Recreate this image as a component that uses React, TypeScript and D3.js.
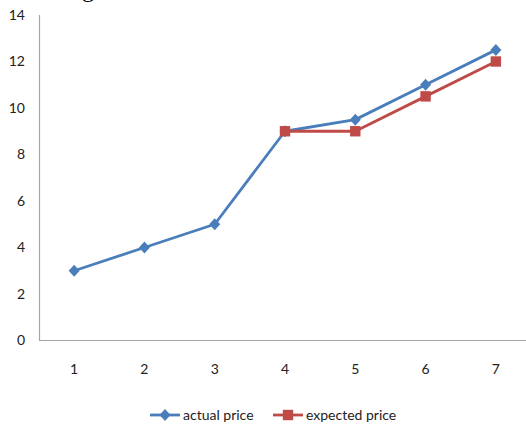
import React, { useEffect, useRef } from "react";
import * as d3 from "d3";

const categories = ["1", "2", "3", "4", "5", "6", "7"];
const actualPrice: (number | null)[] = [3, 4, 5, 9, 9.5, 11, 12.5];
const expectedPrice: (number | null)[] = [null, null, null, 9, 9, 10.5, 12];
const yTicks = [0, 2, 4, 6, 8, 10, 12, 14];
const seriesNames = ["actual price", "expected price"];

const W = 526;
const H = 426;
const FONT = "Lato, 'Open Sans', sans-serif";
const BLUE = "#4a7ebb";
const RED = "#be4b48";

// marker shapes: a near-square diamond and a plain square
const diamondPath = (hw: number, hh: number) =>
  `M0,${-hh}L${hw},0L0,${hh}L${-hw},0Z`;
const squarePath = (h: number) => `M${-h},${-h}H${h}V${h}H${-h}Z`;

export default function App() {
  const ref = useRef<SVGSVGElement>(null);

  useEffect(() => {
    const svg = d3.select(ref.current);
    svg.selectAll("*").remove();

    const x = d3.scaleBand().domain(categories).range([39, 531]);
    const y = d3.scaleLinear().domain([0, 14]).range([340.5, 15]);
    const cx = (c: string) => (x(c) ?? 0) + x.bandwidth() / 2;

    // partially visible heading above the plot
    svg.append("text")
      .attr("x", 82).attr("y", -3)
      .attr("font-family", "'Liberation Serif', serif")
      .attr("font-size", 24)
      .attr("fill", "#000")
      .text("g");

    // axes
    svg.append("line")
      .attr("x1", 39.5).attr("x2", 39.5)
      .attr("y1", y(14)).attr("y2", y(0))
      .attr("stroke", "#a6a6a6").attr("stroke-width", 1.2);
    svg.append("line")
      .attr("x1", 39).attr("x2", W)
      .attr("y1", y(0)).attr("y2", y(0))
      .attr("stroke", "#a6a6a6").attr("stroke-width", 1.2);

    svg.append("g").selectAll("text").data(yTicks).join("text")
      .attr("x", 25).attr("y", (d) => y(d))
      .attr("dy", "0.35em")
      .attr("text-anchor", "end")
      .attr("font-family", FONT).attr("font-size", 14)
      .attr("fill", "#222")
      .text((d) => String(d));

    svg.append("g").selectAll("text").data(categories).join("text")
      .attr("x", (d) => cx(d)).attr("y", 369.5)
      .attr("dy", "0.35em")
      .attr("text-anchor", "middle")
      .attr("font-family", FONT).attr("font-size", 14)
      .attr("fill", "#222")
      .text((d) => d);

    const line = d3.line<number | null>()
      .defined((d) => d !== null)
      .x((_, i) => cx(categories[i]))
      .y((d) => y(d as number));

    const diamond = diamondPath(5.5, 6);
    const square = squarePath(5.2);

    const drawSeries = (vals: (number | null)[], color: string, marker: string) => {
      svg.append("path")
        .datum(vals)
        .attr("d", line)
        .attr("fill", "none")
        .attr("stroke", color)
        .attr("stroke-width", 2.8)
        .attr("stroke-linejoin", "round");
      svg.append("g").selectAll("path")
        .data(vals.map((v, i) => ({ v, c: categories[i] })).filter((p) => p.v !== null))
        .join("path")
        .attr("transform", (p) => `translate(${cx(p.c)},${y(p.v as number)})`)
        .attr("d", marker)
        .attr("fill", color);
    };

    drawSeries(actualPrice, BLUE, diamond);
    drawSeries(expectedPrice, RED, square);

    // legend
    const legend = [
      { name: seriesNames[0], color: BLUE, marker: diamond, x: 150 },
      { name: seriesNames[1], color: RED, marker: square, x: 273 },
    ];
    const ly = 415;
    legend.forEach((l) => {
      svg.append("line")
        .attr("x1", l.x).attr("x2", l.x + 30)
        .attr("y1", ly).attr("y2", ly)
        .attr("stroke", l.color).attr("stroke-width", 2.8);
      svg.append("path")
        .attr("transform", `translate(${l.x + 15},${ly})`)
        .attr("d", l.marker)
        .attr("fill", l.color);
      svg.append("text")
        .attr("x", l.x + 33).attr("y", ly)
        .attr("dy", "0.35em")
        .attr("font-family", FONT).attr("font-size", 14)
        .attr("fill", "#222")
        .text(l.name);
    });
  }, []);

  return (
    <svg
      ref={ref}
      width={W}
      height={H}
      style={{ position: "absolute", left: 0, top: 0, background: "#fff" }}
    />
  );
}
